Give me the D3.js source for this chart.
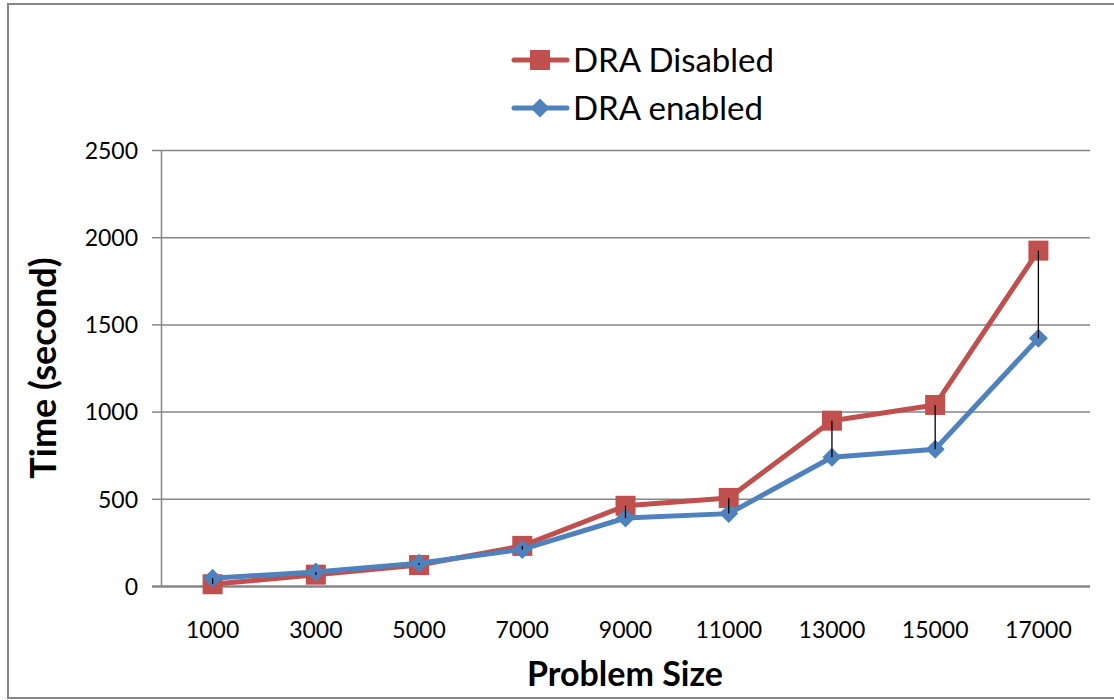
<!DOCTYPE html>
<html>
<head>
<meta charset="utf-8">
<script src="https://cdn.jsdelivr.net/npm/d3@7"></script>
<style>
  html, body { margin: 0; padding: 0; background: #fff; }
  svg { display: block; }
</style>
</head>
<body>
<svg id="chart" width="1114" height="700"></svg>
<script>
// Problem sizes (categories) and measured run times in seconds
const problemSizes = ["1000", "3000", "5000", "7000", "9000", "11000", "13000", "15000", "17000"];
const draDisabled = [10, 65, 120, 230, 460, 505, 948, 1038, 1923];
const draEnabled  = [45, 80, 130, 210, 390, 415, 738, 784, 1420];
const yTicks = [0, 500, 1000, 1500, 2000, 2500];

const svg = d3.select("#chart");
const plot = { left: 161, right: 1090, top: 150, bottom: 586 };
const gridColor = "#868686";
const font = "Lato, 'Open Sans', sans-serif";

// outer frame
svg.append("rect")
  .attr("x", 8).attr("y", 4)
  .attr("width", 1120).attr("height", 694)
  .attr("fill", "#fff")
  .attr("stroke", gridColor).attr("stroke-width", 2);

const x = d3.scaleBand().domain(problemSizes).range([plot.left, plot.right]);
const y = d3.scaleLinear().domain([0, 2500]).range([plot.bottom, plot.top]);
const cx = d => x(d) + x.bandwidth() / 2;

// horizontal gridlines with outward ticks
const yAxis = svg.append("g")
  .attr("transform", `translate(${plot.left},0)`)
  .call(d3.axisLeft(y).tickValues(yTicks).tickFormat(d3.format("d"))
    .tickSize(9).tickSizeOuter(0).tickPadding(14));
yAxis.select(".domain").attr("stroke", gridColor).attr("stroke-width", 1.5);
yAxis.selectAll(".tick line").attr("stroke", gridColor).attr("stroke-width", 1.5)
  .clone().attr("x1", 0).attr("x2", plot.right - plot.left);
yAxis.selectAll(".tick text")
  .attr("font-family", font).attr("font-size", 23).attr("fill", "#000")
  .attr("dy", "0.36em");
yAxis.selectAll(".tick").filter(d => d === 0).selectAll("line").attr("stroke-width", 2.5);

// category axis labels
const xAxis = svg.append("g")
  .attr("transform", `translate(0,${plot.bottom})`)
  .call(d3.axisBottom(x).tickSize(0).tickPadding(44));
xAxis.select(".domain").remove();
xAxis.selectAll(".tick text")
  .attr("font-family", font).attr("font-size", 23).attr("fill", "#000")
  .attr("dy", "0.36em");

// axis titles
svg.append("text")
  .attr("transform", `translate(56,${(plot.top + plot.bottom) / 2}) rotate(-90)`)
  .attr("text-anchor", "middle")
  .attr("font-family", font).attr("font-weight", "bold").attr("font-size", 36)
  .text("Time (second)");
svg.append("text")
  .attr("x", 625).attr("y", 686)
  .attr("text-anchor", "middle")
  .attr("font-family", font).attr("font-weight", "bold").attr("font-size", 34)
  .text("Problem Size");

const line = d3.line().x((d, i) => cx(problemSizes[i])).y(d => y(d));
const red = "#C0504D", blue = "#4F81BD";
const diamond = "M0,-9.5L9.5,0L0,9.5L-9.5,0Z";

// DRA Disabled series
svg.append("path").datum(draDisabled)
  .attr("d", line).attr("fill", "none")
  .attr("stroke", red).attr("stroke-width", 5).attr("stroke-linejoin", "round");
svg.append("g").selectAll("rect").data(draDisabled).join("rect")
  .attr("x", (d, i) => cx(problemSizes[i]) - 10)
  .attr("y", d => y(d) - 10)
  .attr("width", 20).attr("height", 20)
  .attr("fill", red);

// DRA enabled series
svg.append("path").datum(draEnabled)
  .attr("d", line).attr("fill", "none")
  .attr("stroke", blue).attr("stroke-width", 5).attr("stroke-linejoin", "round");
svg.append("g").selectAll("path").data(draEnabled).join("path")
  .attr("transform", (d, i) => `translate(${cx(problemSizes[i])},${y(d)})`)
  .attr("d", diamond)
  .attr("fill", blue);

// high-low lines between the two series
svg.append("g").selectAll("line").data(problemSizes).join("line")
  .attr("x1", d => cx(d)).attr("x2", d => cx(d))
  .attr("y1", (d, i) => y(draDisabled[i]))
  .attr("y2", (d, i) => y(draEnabled[i]))
  .attr("stroke", "#000").attr("stroke-width", 1.3);

// legend
const legend = svg.append("g").attr("font-family", font).attr("font-size", 33);
const legendItems = [
  { label: "DRA Disabled", color: red, shape: "square", y: 60 },
  { label: "DRA enabled", color: blue, shape: "diamond", y: 108 }
];
legendItems.forEach(it => {
  legend.append("line")
    .attr("x1", 514).attr("x2", 567).attr("y1", it.y).attr("y2", it.y)
    .attr("stroke", it.color).attr("stroke-width", 5).attr("stroke-linecap", "round");
  if (it.shape === "square") {
    legend.append("rect").attr("x", 530).attr("y", it.y - 10)
      .attr("width", 20).attr("height", 20).attr("fill", it.color);
  } else {
    legend.append("path").attr("transform", `translate(540,${it.y})`)
      .attr("d", diamond).attr("fill", it.color);
  }
  legend.append("text").attr("x", 573).attr("y", it.y).attr("dy", "0.36em")
    .attr("fill", "#000").text(it.label);
});
</script>
</body>
</html>
